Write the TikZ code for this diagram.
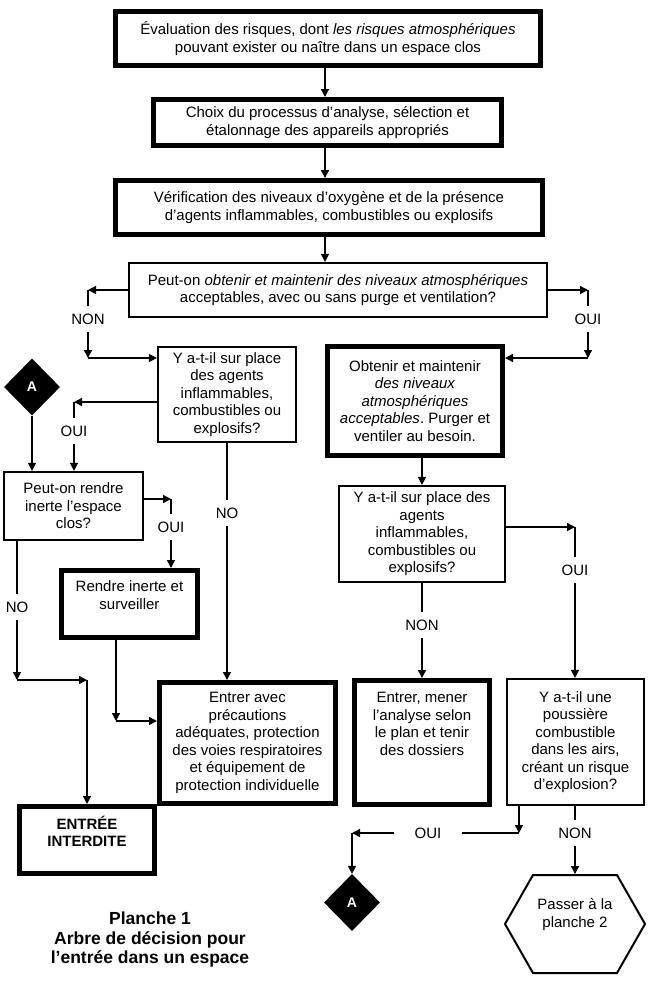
\documentclass[tikz,border=0pt]{standalone}
\usepackage{fontspec}
\setmainfont{Liberation Sans}
\usetikzlibrary{arrows.meta,shapes.geometric,calc}
\frenchspacing
\begin{document}
\begin{tikzpicture}[x=1pt,y=-1pt,
  txt/.style={font=\fontsize{15}{17.5}\selectfont, align=center, inner sep=0pt},
  thinbox/.style={txt, draw, line width=2.2pt},
  thickbox/.style={txt, draw, line width=5pt},
  arr/.style={-{Triangle[length=8pt,width=8pt]}, line width=1.4pt},
  lbl/.style={fill=white, font=\fontsize{15}{17.5}\selectfont, inner xsep=2pt, inner ysep=8pt},
  dia/.style={diamond, aspect=1, fill=black, minimum width=56pt, minimum height=57pt, inner sep=0pt, text=white, font=\bfseries\fontsize{14}{16}\selectfont}
]
\useasboundingbox (0,0) rectangle (650,989);
\fill[white] (0,0) rectangle (650,989);

% boxes
\node[thickbox, minimum width=425pt, minimum height=54pt] (B1) at (328,38.5)
  {Évaluation des risques, dont {\itshape les risques atmosphériques}\\pouvant exister ou naître dans un espace clos};
\node[thickbox, minimum width=348pt, minimum height=46pt] (B2) at (327.5,122.5)
  {Choix du processus d’analyse, sélection et\\étalonnage des appareils appropriés};
\node[thickbox, minimum width=427pt, minimum height=54pt] (B3) at (329,207.5)
  {Vérification des niveaux d’oxygène et de la présence\\d’agents inflammables, combustibles ou explosifs};
\node[thinbox, minimum width=418pt, minimum height=54pt] (B4) at (338,290)
  {Peut-on {\itshape obtenir et maintenir des niveaux atmosphériques}\\acceptables, avec ou sans purge et ventilation?};
\node[thinbox, minimum width=138pt, minimum height=95pt] (B5) at (227,394.5)
  {Y a-t-il sur place\\des agents\\inflammables,\\combustibles ou\\explosifs?};
\node[thinbox, minimum width=139pt, minimum height=68pt] (B6) at (73.5,506)
  {Peut-on rendre\\inerte l’espace\\clos?};
\node[thickbox, minimum width=136pt, minimum height=67pt] (B7) at (129.5,604) {};
\node[txt] (T7) at (129.5,595) {Rendre inerte et\\surveiller};
\node[thickbox, minimum width=176pt, minimum height=121pt] (B8) at (247.5,743)
  {Entrer avec\\précautions\\adéquates, protection\\des voies respiratoires\\et équipement de\\protection individuelle};
\node[thickbox, minimum width=135pt, minimum height=67pt] (EI) at (87,840) {};
\node[txt, font=\bfseries\fontsize{15}{17.5}\selectfont] (TEI) at (87,831.5) {ENTRÉE\\INTERDITE};
\node[thickbox, minimum width=175pt, minimum height=109pt] (B9) at (415,401)
  {Obtenir et maintenir\\{\itshape des niveaux}\\{\itshape atmosphériques}\\{\itshape acceptables}. Purger et\\ventiler au besoin.};
\node[thinbox, minimum width=166pt, minimum height=96pt] (B10) at (422,534)
  {Y a-t-il sur place des\\agents\\inflammables,\\combustibles ou\\explosifs?};
\node[thickbox, minimum width=135pt, minimum height=124pt] (B11) at (422,742.5) {};
\node[txt] (T11) at (422,724) {Entrer, mener\\l’analyse selon\\le plan et tenir\\des dossiers};
\node[thinbox, minimum width=137pt, minimum height=126pt] (B12) at (575.5,742)
  {Y a-t-il une\\poussière\\combustible\\dans les airs,\\créant un risque\\d’explosion?};

% hexagon
\draw[line width=2pt, line join=miter] (533,875) -- (617,875) -- (645,924) -- (617,973) -- (533,973) -- (505,924) -- cycle;
\coordinate (hextop) at (575,874);
\node[txt] (HEX) at (575,914.5) {Passer à la\\planche 2};

% diamonds
\node[dia] (A1) at (32,387) {A};
\node[dia] (A2) at (352,902.5) {A};

% title
\node[font=\bfseries\fontsize{17.5}{19.5}\selectfont, align=center, inner sep=0pt] (title) at (150,939.5)
  {Planche 1\\Arbre de décision pour\\l’entrée dans un espace};

% main vertical chain
\coordinate (m) at (325,0);
\draw[arr] (B1.south -| m) -- (B2.north -| m);
\draw[arr] (B2.south -| m) -- (B3.north -| m);
\draw[arr] (B3.south -| m) -- (B4.north -| m);

% NON left from B4
\coordinate (n1) at (88,290);
\coordinate (n2) at (88,358);
\draw[arr] (B4.west) -- (n1);
\draw[arr] (n1) -- (n2);
\draw[arr] (n2) -- (n2 -| B5.west);

% OUI right from B4
\coordinate (o1) at (588,290);
\coordinate (o2) at (588,358);
\draw[arr] (B4.east) -- (o1);
\draw[arr] (o1) -- (o2);
\draw[arr] (o2) -- (o2 -| B9.east);

% OUI from B5
\coordinate (p1) at (74,402);
\draw[arr] (p1 -| B5.west) -- (p1);
\draw[arr] (p1) -- (p1 |- B6.north);

% A1 to B6
\draw[arr] (A1.south) -- (A1.south |- B6.north);

% OUI from B6
\coordinate (q1) at (171,499);
\draw[arr] (q1 -| B6.east) -- (q1);
\draw[arr] (q1) -- (q1 |- B7.north);

% NO from B6
\coordinate (r1) at (17,680);
\coordinate (r2) at (87,680);
\draw[arr] (B6.south -| r1) -- (r1);
\draw[arr] (r1) -- (r2);
\draw[arr] (r2) -- (r2 |- EI.north);

% B7 to B8
\coordinate (s1) at (116,721);
\draw[arr] (B7.south -| s1) -- (s1);
\draw[arr] (s1) -- (s1 -| B8.west);

% NO from B5
\draw[arr] (B5.south) -- (B5.south |- B8.north);

% right column
\draw[arr] (B9.south -| B10.north) -- (B10.north);
\draw[arr] (B10.south) -- (B10.south |- B11.north);
\coordinate (t1) at (575,527);
\draw[arr] (t1 -| B10.east) -- (t1);
\draw[arr] (t1) -- (t1 |- B12.north);

% from B12
\coordinate (u1) at (519,833);
\coordinate (u2) at (352,833);
\draw[arr] (B12.south -| u1) -- (u1);
\draw[arr] (u1) -- (u2);
\draw[arr] (u2) -- (A2.north);
\draw[arr] (B12.south -| hextop) -- (hextop);

% labels
\node[lbl] (L1) at (88,319) {NON};
\node[lbl] (L2) at (588,319) {OUI};
\node[lbl] (L3) at (74,431) {OUI};
\node[lbl] (L4) at (171,527) {OUI};
\node[lbl] (L5) at (17,607) {NO};
\node[lbl] (L6) at (227,513) {NO};
\node[lbl] (L7) at (422,625) {NON};
\node[lbl] (L8) at (575,570) {OUI};
\node[lbl, inner xsep=21pt, inner ysep=3pt] (L9) at (428,833) {OUI};
\node[lbl] (L10) at (575,833) {NON};
\end{tikzpicture}
\end{document}
